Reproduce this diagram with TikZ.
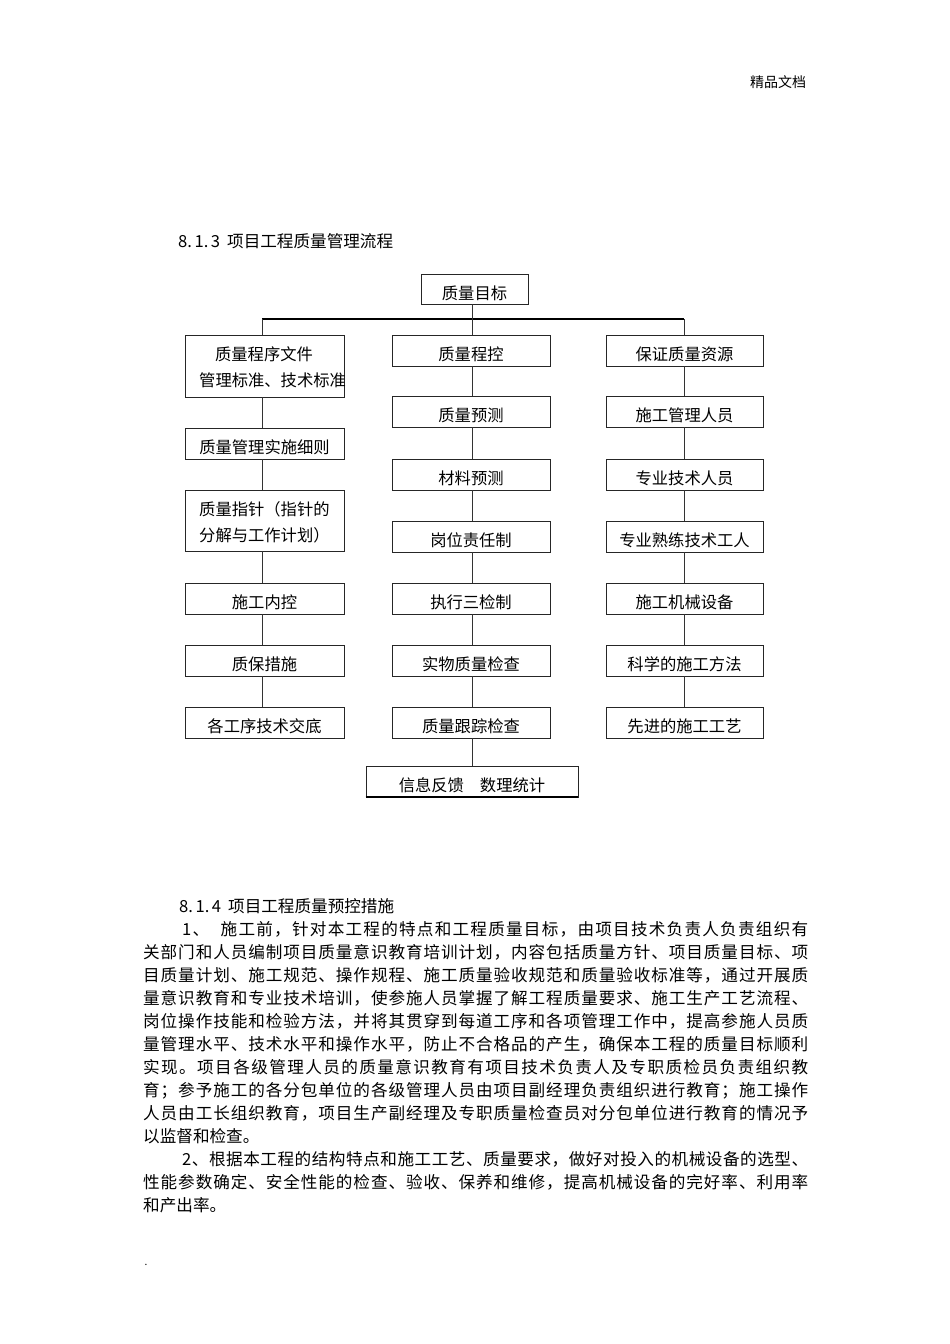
\documentclass[tikz,border=0pt]{standalone}
\usepackage{fontspec}
\setmainfont{Noto Sans CJK SC}
\newcommand\boxfont{\fontsize{16.3}{18}\selectfont}
\newcommand\bodyfont{\fontsize{16.6}{20}\selectfont}
\makeatletter
\def\sprdend{\sprdend}
\def\sprd#1{\ifx\sprdend#1\else#1\hskip 0pt plus 1fil\expandafter\sprd\fi}
\newcommand\spreadline[2]{\hbox to #1{\sprd#2\sprdend\unskip}}
\makeatother
\newcommand\gapa{\hspace{9pt}}
\newcommand\secno[1]{\makebox[42pt][s]{#1}\hspace{7pt}}
\tikzset{
  box/.style={draw=black!85, line width=0.9pt, inner sep=0pt, text height=20pt, text depth=0pt, font=\boxfont},
  boxtext/.style={inner sep=0pt, anchor=base west, font=\boxfont},
  conn/.style={draw=black!80, line width=0.9pt},
  busline/.style={draw=black, line width=2.3pt},
  bodyline/.style={inner sep=0pt, anchor=base west, font=\bodyfont},
}
\newcommand\mkbox[6]{%
  \pgfmathsetmacro\bw{#4-#2}\pgfmathsetmacro\bh{#5-#3}%
  \node[box, minimum width=\bw pt, minimum height=\bh pt] (#1) at ({(#2+#4)/2},{(#3+#5)/2}) {#6};}
\begin{document}
\begin{tikzpicture}[x=1pt,y=-1pt]
\useasboundingbox[fill=white] (0,0) rectangle (950,1344);
% header
\node[inner sep=0pt, anchor=base west, font=\fontsize{14}{16}\selectfont] (hdr) at (750,87) {精品文档};
\node[bodyline] (t813) at (178,247) {\secno{8.\hfil1.\hfil3}项目工程质量管理流程};
% boxes
\mkbox{top}{421}{274}{528}{304}{质量目标}
\mkbox{L1}{185}{335}{344}{397}{}
\mkbox{L2}{185}{428}{344}{459}{质量管理实施细则}
\mkbox{L3}{185}{490}{344}{551}{}
\mkbox{L4}{185}{583}{344}{614}{施工内控}
\mkbox{L5}{185}{645}{344}{676}{质保措施}
\mkbox{L6}{185}{707}{344}{738}{各工序技术交底}
\node[boxtext, anchor=base] (L1a) at (264,360) {质量程序文件};
\node[boxtext] (L1b) at (199,386) {管理标准、技术标准};
\node[boxtext] (L3a) at (199,515) {质量指针（指针的};
\node[boxtext] (L3b) at (199,541) {分解与工作计划）};
\mkbox{M1}{392}{335}{550}{366}{质量程控}
\mkbox{M2}{392}{396}{550}{427}{质量预测}
\mkbox{M3}{392}{459}{550}{490}{材料预测}
\mkbox{M4}{392}{521}{550}{552}{岗位责任制}
\mkbox{M5}{392}{583}{550}{614}{执行三检制}
\mkbox{M6}{392}{645}{550}{676}{实物质量检查}
\mkbox{M7}{392}{707}{550}{738}{质量跟踪检查}
\mkbox{B}{366}{766}{578}{797}{信息反馈\hspace{16pt}数理统计}
\mkbox{R1}{606}{335}{763}{366}{保证质量资源}
\mkbox{R2}{606}{396}{763}{427}{施工管理人员}
\mkbox{R3}{606}{459}{763}{490}{专业技术人员}
\mkbox{R4}{606}{521}{763}{552}{专业熟练技术工人}
\mkbox{R5}{606}{583}{763}{614}{施工机械设备}
\mkbox{R6}{606}{645}{763}{676}{科学的施工方法}
\mkbox{R7}{606}{707}{763}{738}{先进的施工工艺}
\draw[line width=2pt] (B.south west) -- (B.south east);
% connectors
\coordinate (bl) at (262,319);
\coordinate (br) at (684,319);
\coordinate (xm) at (472,319);
\draw[busline] (bl) -- (br);
\draw[conn] (top.south -| xm) -- (M1.north -| xm);
\draw[conn] (bl) -- (L1.north -| bl);
\draw[conn] (br) -- (R1.north -| br);
\foreach \a/\b in {L1/L2,L2/L3,L3/L4,L4/L5,L5/L6}
  \draw[conn] (\a.south -| bl) -- (\b.north -| bl);
\foreach \a/\b in {M1/M2,M2/M3,M3/M4,M4/M5,M5/M6,M6/M7,M7/B}
  \draw[conn] (\a.south -| xm) -- (\b.north -| xm);
\foreach \a/\b in {R1/R2,R2/R3,R3/R4,R4/R5,R5/R6,R6/R7}
  \draw[conn] (\a.south -| br) -- (\b.north -| br);
% body text
\node[bodyline] (p0) at (179,912.5) {\secno{8.\hfil1.\hfil4}项目工程质量预控措施};
\node[bodyline] (p1) at (182,935.5) {\spreadline{626pt}{1、\gapa 施工前，针对本工程的特点和工程质量目标，由项目技术负责人负责组织有}};
\node[bodyline] (p2) at (143,958.5) {\spreadline{665pt}{关部门和人员编制项目质量意识教育培训计划，内容包括质量方针、项目质量目标、项}};
\node[bodyline] (p3) at (143,981.5) {\spreadline{665pt}{目质量计划、施工规范、操作规程、施工质量验收规范和质量验收标准等，通过开展质}};
\node[bodyline] (p4) at (143,1004.5) {\spreadline{665pt}{量意识教育和专业技术培训，使参施人员掌握了解工程质量要求、施工生产工艺流程、}};
\node[bodyline] (p5) at (143,1027.5) {\spreadline{665pt}{岗位操作技能和检验方法，并将其贯穿到每道工序和各项管理工作中，提高参施人员质}};
\node[bodyline] (p6) at (143,1050.5) {\spreadline{665pt}{量管理水平、技术水平和操作水平，防止不合格品的产生，确保本工程的质量目标顺利}};
\node[bodyline] (p7) at (143,1073.5) {\spreadline{665pt}{实现。项目各级管理人员的质量意识教育有项目技术负责人及专职质检员负责组织教}};
\node[bodyline] (p8) at (143,1096.5) {\spreadline{665pt}{育；参予施工的各分包单位的各级管理人员由项目副经理负责组织进行教育；施工操作}};
\node[bodyline] (p9) at (143,1119.5) {\spreadline{665pt}{人员由工长组织教育，项目生产副经理及专职质量检查员对分包单位进行教育的情况予}};
\node[bodyline] (p10) at (143,1142.5) {以监督和检查。};
\node[bodyline] (p11) at (182,1165.5) {\spreadline{626pt}{2、根据本工程的结构特点和施工工艺、质量要求，做好对投入的机械设备的选型、}};
\node[bodyline] (p12) at (143,1188.5) {\spreadline{665pt}{性能参数确定、安全性能的检查、验收、保养和维修，提高机械设备的完好率、利用率}};
\node[bodyline] (p13) at (143,1211.5) {和产出率。};
\node[inner sep=0pt, anchor=base, font=\fontsize{10}{12}\selectfont] (dot) at (146,1265) {.};
\end{tikzpicture}
\end{document}
